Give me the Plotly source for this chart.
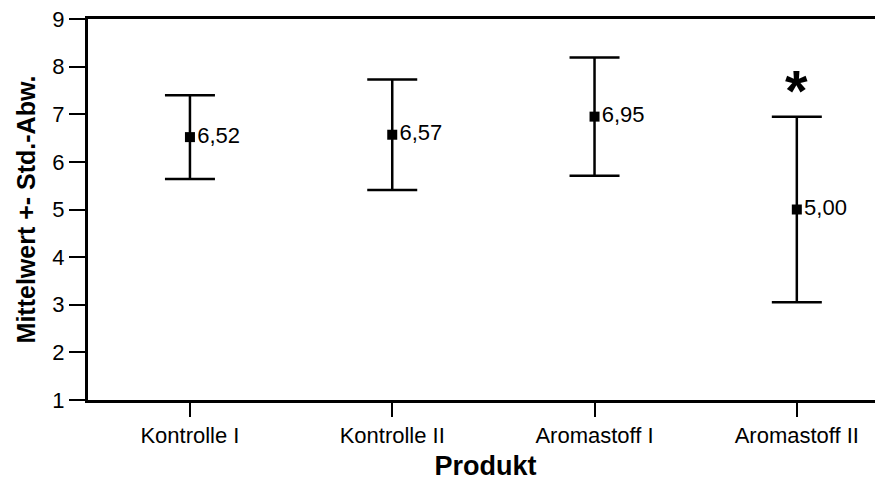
import plotly.graph_objects as go

categories = ["Kontrolle I", "Kontrolle II", "Aromastoff I", "Aromastoff II"]
means = [6.52, 6.57, 6.95, 5.00]
std_devs = [0.88, 1.16, 1.24, 1.95]
mean_labels = ["6,52", "6,57", "6,95", "5,00"]
y_ticks = [1, 2, 3, 4, 5, 6, 7, 8, 9]

x_idx = list(range(len(categories)))

fig = go.Figure()
fig.add_trace(go.Scatter(
    x=x_idx, y=means,
    mode="markers+text",
    marker=dict(symbol="square", size=10, color="black"),
    text=mean_labels,
    textposition="middle right",
    textfont=dict(family="Liberation Sans, Arial", size=22, color="black"),
    error_y=dict(type="data", array=std_devs, visible=True,
                 color="black", thickness=2.5, width=25),
    showlegend=False,
    cliponaxis=False,
))

# significance marker above Aromastoff II
fig.add_annotation(x=3, y=means[3] + std_devs[3], text="<b>*</b>",
                   showarrow=False, yshift=26,
                   font=dict(family="Liberation Sans, Arial", size=58, color="black"))

fig.update_layout(
    width=875, height=473,
    margin=dict(l=80, r=0, t=11, b=81),
    paper_bgcolor="white", plot_bgcolor="white",
    font=dict(family="Liberation Sans, Arial", color="black"),
    showlegend=False,
)
fig.update_xaxes(
    range=[-0.504, 3.426], automargin=False,
    tickmode="array", tickvals=x_idx, ticktext=categories,
    tickfont=dict(size=22), ticklabeloverflow="allow",
    ticks="outside", ticklen=14, tickwidth=2, tickcolor="black",
    showline=True, linecolor="black", linewidth=3, mirror=True,
    showgrid=False, zeroline=False,
    title=dict(text="<b>Produkt</b>", font=dict(size=27), standoff=14),
)
fig.update_yaxes(
    range=[1, 9], automargin=False,
    tickmode="array", tickvals=y_ticks,
    tickfont=dict(size=22), ticklabeloverflow="allow",
    ticks="outside", ticklen=16, tickwidth=2, tickcolor="black",
    showline=True, linecolor="black", linewidth=3, mirror=False,
    showgrid=False, zeroline=False,
    title=dict(text="<b>Mittelwert +- Std.-Abw.</b>", font=dict(size=25), standoff=10),
)

fig.write_html("out.html")
